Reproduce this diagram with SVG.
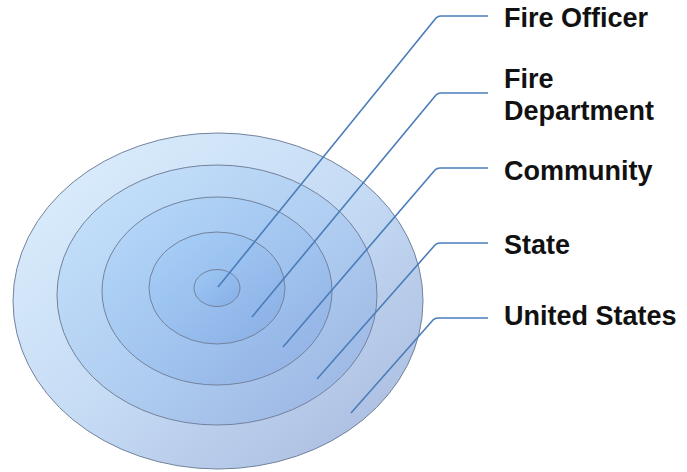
<svg xmlns="http://www.w3.org/2000/svg" width="687" height="472" viewBox="0 0 687 472">
  <defs>
    <linearGradient id="gOuter" x1="0" y1="0" x2="1" y2="1">
      <stop offset="0" stop-color="#dff0fd"/>
      <stop offset="0.5" stop-color="#c6dcf5"/>
      <stop offset="1" stop-color="#a6b7dc"/>
    </linearGradient>
    <linearGradient id="gRing" x1="0" y1="0" x2="1" y2="1">
      <stop offset="0" stop-color="#9fd0fb"/>
      <stop offset="1" stop-color="#6a95dc"/>
    </linearGradient>
    <style>
      .ring { stroke: #72829c; stroke-width: 1; }
      .inner { fill: url(#gRing); fill-opacity: 0.32; }
      .lead { fill: none; stroke: #4a7dba; stroke-width: 1.6; stroke-linejoin: round; }
      .label { font-family: "Liberation Sans", Arial, sans-serif; font-weight: bold; font-size: 27px; fill: #111; }
    </style>
  </defs>

  <g id="united-states">
    <ellipse class="ring" cx="218" cy="301" rx="205" ry="168" fill="url(#gOuter)"/>
  </g>
  <g id="state">
    <ellipse class="ring inner" cx="217" cy="295" rx="160" ry="130"/>
  </g>
  <g id="community">
    <ellipse class="ring inner" cx="217" cy="291" rx="115" ry="94"/>
  </g>
  <g id="fire-department">
    <ellipse class="ring inner" cx="217" cy="288" rx="68" ry="56"/>
  </g>
  <g id="fire-officer">
    <ellipse class="ring inner" cx="217" cy="288" rx="23" ry="18.5"/>
  </g>

  <g id="connectors">
    <path class="lead" d="M218,287 L436,18 Q438,16 441,16 L488,16"/>
    <path class="lead" d="M252,317 L436,95 Q438,93 441,93 L488,93"/>
    <path class="lead" d="M283,347 L435,170 Q437,168 440,168 L488,168"/>
    <path class="lead" d="M317,379 L435,245 Q437,243 440,243 L488,243"/>
    <path class="lead" d="M351,413 L433,320 Q435,318 438,318 L488,318"/>
  </g>

  <g id="labels">
    <text class="label" x="504" y="27">Fire Officer</text>
    <text class="label" x="504" y="88">Fire</text>
    <text class="label" x="504" y="120">Department</text>
    <text class="label" x="504" y="180">Community</text>
    <text class="label" x="504" y="254">State</text>
    <text class="label" x="504" y="325">United States</text>
  </g>
</svg>
